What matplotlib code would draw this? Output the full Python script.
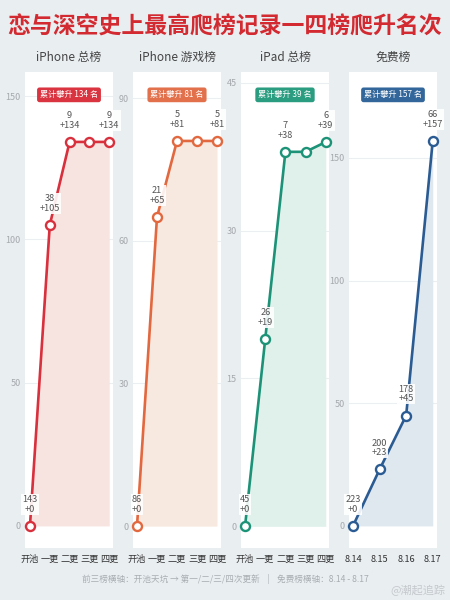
import matplotlib
matplotlib.use("Agg")
import matplotlib.pyplot as plt

plt.rcParams['font.family'] = ['Noto Sans CJK SC', 'DejaVu Sans']

title = "恋与深空史上最高爬榜记录一四榜爬升名次"
panel_titles = ["iPhone 总榜", "iPhone 游戏榜", "iPad 总榜", "免费榜"]
update_labels = ["开池", "一更", "二更", "三更", "四更"]
date_labels = ["8.14", "8.15", "8.16", "8.17"]

# cumulative climb per panel
climb_iphone = [0, 105, 134, 134, 134]
climb_game = [0, 65, 81, 81, 81]
climb_ipad = [0, 19, 38, 38, 39]
climb_free = [0, 23, 45, 157]

# rank at each point
rank_iphone = [143, 38, 9, 9, 9]
rank_game = [86, 21, 5, 5, 5]
rank_ipad = [45, 26, 7, 7, 6]
rank_free = [223, 200, 178, 66]

# which points carry a label
show_iphone = [1, 1, 1, 0, 1]
show_game = [1, 1, 1, 0, 1]
show_ipad = [1, 1, 1, 0, 1]
show_free = [1, 1, 1, 1]

totals = [134, 81, 39, 157]
yticks = [[0, 50, 100, 150], [0, 30, 60, 90], [0, 15, 30, 45], [0, 50, 100, 150]]
ylims = [(-7.7, 158.4), (-4.6, 95.5), (-2.2, 46.1), (-9.0, 185.0)]
xlims = [(-0.25, 4.19), (-0.2, 4.2), (-0.2, 4.16), (-0.15, 3.16)]

line_colors = ["#d8303c", "#e2683f", "#1c9277", "#2b5b93"]
badge_colors = ["#d9343f", "#e2704b", "#2a9c80", "#33679b"]
fill_colors = ["#f7e4e1", "#f8e9e0", "#e0f1eb", "#dfe8ef"]

panels = [
    (climb_iphone, rank_iphone, show_iphone, update_labels),
    (climb_game, rank_game, show_game, update_labels),
    (climb_ipad, rank_ipad, show_ipad, update_labels),
    (climb_free, rank_free, show_free, date_labels),
]

W, H = 450, 600
bg = "#e9eef1"
fig = plt.figure(figsize=(W / 100, H / 100), dpi=100, facecolor=bg)

fig.text(0.5, 1 - 27 / H, title, ha="center", va="center", fontsize=16.5,
         fontweight="bold", color="#d22a30")

lefts = [25, 133, 241, 349]
for i, (vals, ranks, show, xl) in enumerate(panels):
    left = lefts[i]
    ax = fig.add_axes([left / W, 1 - 548 / H, 88 / W, 476 / H])
    ax.set_facecolor("white")
    for s in ax.spines.values():
        s.set_visible(False)
    x = list(range(len(vals)))
    ax.set_xlim(*xlims[i])
    ax.set_ylim(*ylims[i])
    ax.set_yticks(yticks[i])
    ax.set_yticklabels([str(t) for t in yticks[i]], fontsize=6.5, color="#a5a9ad")
    ax.set_xticks(x)
    ax.set_xticklabels(xl, fontsize=6.6, color="#333333")
    ax.tick_params(axis="both", length=0)
    ax.tick_params(axis="y", pad=3)
    ax.tick_params(axis="x", pad=5)
    for t in yticks[i]:
        if t > 0:
            ax.axhline(t, color="#eceff1", lw=0.8, zorder=0)
    ax.fill_between(x, 0, vals, color=fill_colors[i], lw=0, zorder=1)
    ax.plot(x, vals, color=line_colors[i], lw=1.9, zorder=3,
            marker="o", ms=6.5, mfc="white", mec=line_colors[i], mew=1.7,
            clip_on=False)
    for xi, v, r, s in zip(x, vals, ranks, show):
        if not s:
            continue
        ax.annotate(f"{r}\n+{v}", (xi, v), xytext=(0, 15.5), textcoords="offset points",
                    ha="center", va="center", fontsize=6.6, color="#555555",
                    linespacing=1.1, zorder=5, annotation_clip=False,
                    bbox=dict(boxstyle="square,pad=0.12", fc="white", ec="none", alpha=0.9))
    ax.text(0.5, 0.952, f"累计攀升 {totals[i]} 名", transform=ax.transAxes,
            ha="center", va="center", fontsize=5.9, color="white", zorder=6,
            bbox=dict(boxstyle="round,pad=0.35,rounding_size=0.3", fc=badge_colors[i], ec="none"))
    fig.text((left + 44) / W, 1 - 57 / H, panel_titles[i], ha="center", va="center",
             fontsize=8.5, color="#444444")

fig.text(0.5, 1 - 579 / H,
         "前三榜横轴：开池天坑 → 第一/二/三/四次更新    |    免费榜横轴：8.14 - 8.17",
         ha="center", va="center", fontsize=6.2, color="#a8adb2")
fig.text(0.99, 1 - 590 / H, "@潮起追踪", ha="right", va="center", fontsize=8,
         color="#c5c9cd")

fig.savefig("out.png", dpi=100, facecolor=bg)
